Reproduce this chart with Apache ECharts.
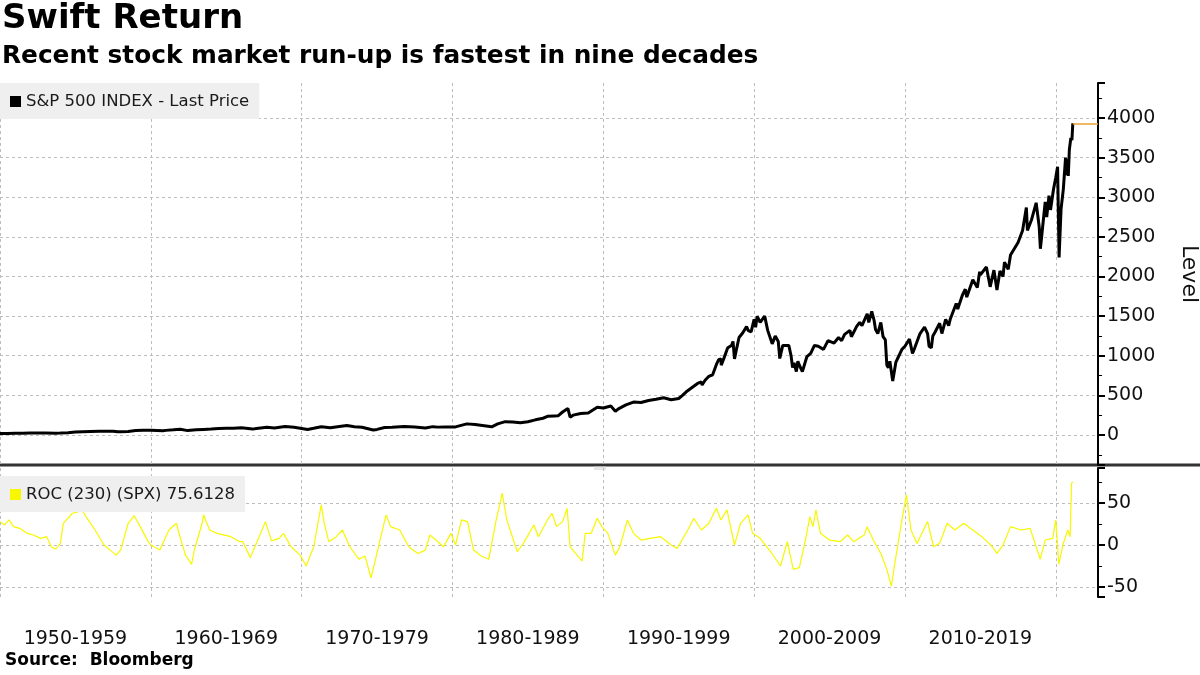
<!DOCTYPE html>
<html>
<head>
<meta charset="utf-8">
<script src="https://cdn.jsdelivr.net/npm/echarts@6/dist/echarts.min.js"></script>
<style>html,body{margin:0;padding:0;background:#fff}#c{width:1200px;height:675px}</style>
</head>
<body>
<div id="c"></div>
<script>
// ---- Data ----
const priceYears = [1950.0,1950.5,1951.0,1951.5,1952.0,1952.5,1953.0,1953.7,1954.0,1954.5,1955.0,1955.5,1956.0,1956.6,1957.0,1957.5,1957.8,1958.0,1958.5,1959.0,1959.5,1960.0,1960.8,1961.0,1961.5,1961.95,1962.45,1963.0,1963.5,1964.0,1964.5,1965.0,1965.5,1966.0,1966.75,1967.0,1967.7,1968.2,1968.9,1969.5,1970.4,1970.8,1971.3,1971.9,1972.5,1973.0,1973.5,1974.0,1974.75,1975.0,1975.5,1976.0,1976.8,1977.5,1978.2,1978.7,1979.0,1979.5,1980.2,1980.95,1981.5,1982.6,1983.0,1983.5,1984.0,1984.5,1985.0,1985.5,1986.0,1986.3,1986.75,1987.0,1987.3,1987.65,1987.8,1988.0,1988.5,1989.0,1989.6,1990.0,1990.5,1990.8,1991.0,1991.5,1992.0,1992.5,1993.0,1993.5,1994.0,1994.5,
  1995.0,1995.25,1995.5,1995.75,1996.0,1996.25,1996.5,1996.55,1996.75,1997.0,1997.25,1997.3,1997.5,1997.65,1997.8,1997.82,1998.0,1998.25,1998.5,1998.6,1998.7,1998.85,1999.0,1999.25,1999.5,1999.6,1999.8,2000.0,2000.1,2000.2,2000.4,2000.7,2000.9,2001.0,2001.2,2001.4,2001.6,2001.7,2001.9,2002.0,2002.3,2002.45,2002.55,2002.65,2002.8,2002.9,2003.0,2003.2,2003.5,2003.75,2004.0,2004.25,2004.6,2004.9,2005.3,2005.6,2005.8,2006.0,2006.35,2006.45,2006.8,2007.0,2007.15,2007.5,2007.6,2007.8,2007.95,2008.05,2008.2,2008.4,2008.55,2008.7,2008.8,2008.9,2009.0,2009.19,2009.4,2009.6,2009.8,2010.0,2010.3,2010.5,2010.65,2011.0,2011.3,2011.5,2011.6,2011.75,2011.85,2012.0,2012.3,2012.45,2012.7,2012.9,2013.0,2013.4,2013.5,2013.8,2014.0,2014.1,2014.5,2014.8,2014.95,2015.0,2015.4,2015.65,2015.9,2016.1,2016.3,2016.5,2016.6,2016.85,2017.0,2017.5,2017.8,2018.05,2018.12,2018.4,2018.7,2018.9,2018.98,2019.3,2019.4,2019.55,2019.65,2019.85,2020.0,2020.12,2020.22,2020.35,2020.5,2020.65,2020.72,2020.8,2020.83,2020.9,2021.0,2021.07,2021.13];
const priceValues = [17,18,21,22,24,25,26,23,25,29,36,41,45,48,46,48,40,41,45,55,58,59,53,58,65,72,55,65,70,75,83,85,84,92,74,82,96,89,108,98,70,84,104,92,107,119,105,97,63,70,95,96,107,100,87,105,99,102,102,140,131,103,140,168,164,153,167,191,211,235,240,242,290,335,225,250,272,278,350,340,365,300,330,380,415,410,435,450,470,445,
  460,500,545,580,615,650,670,630,690,740,760,740,890,950,960,880,970,1100,1130,1180,960,1100,1230,1290,1370,1320,1300,1460,1360,1500,1420,1500,1320,1320,1150,1250,1180,965,1130,1150,1130,1000,850,910,800,930,880,800,990,1030,1130,1120,1080,1190,1160,1230,1190,1270,1320,1240,1370,1420,1380,1530,1420,1560,1450,1330,1280,1420,1240,1200,880,850,930,680,920,1000,1080,1120,1210,1030,1100,1280,1360,1280,1120,1100,1250,1300,1410,1280,1460,1380,1460,1660,1590,1760,1840,1740,1960,1860,2060,2020,2120,1870,2080,1830,2070,2000,2180,2090,2270,2430,2580,2870,2580,2720,2930,2630,2350,2940,2750,3020,2840,3100,3250,3385,2240,2850,3100,3500,3280,3480,3270,3600,3750,3720,3934];

const rocYears = [1950.0,1950.3,1950.6,1950.9,1951.3,1951.8,1952.2,1952.7,1953.1,1953.4,1953.7,1954.0,1954.2,1954.8,1955.2,1955.4,1955.7,1956.3,1956.9,1957.3,1957.7,1958.0,1958.5,1958.9,1959.3,1959.8,1960.0,1960.6,1961.2,1961.7,1961.9,1962.3,1962.7,1962.9,1963.4,1963.5,1963.9,1964.4,1965.3,1965.9,1966.1,1966.6,1966.9,1967.6,1968.0,1968.5,1968.8,1969.3,1969.9,1970.3,1970.8,1971.3,1971.5,1971.8,1972.3,1972.7,1973.2,1973.8,1974.2,1974.6,1974.9,1975.3,1975.6,1975.9,1976.5,1977.1,1977.7,1978.2,1978.5,1978.9,1979.4,1979.9,1980.2,1980.6,1981.0,1981.4,1981.9,1982.4,1982.9,1983.3,1983.6,1984.3,1984.7,1985.4,1985.7,1986.3,1986.6,1986.9,1987.3,1987.6,1987.8,1988.3,1988.6,1988.8,1989.2,1989.6,1989.9,1990.3,1990.8,1991.1,1991.6,1992.0,1992.5,1993.1,1993.8,1994.5,1994.9,1995.6,1996.0,1996.5,1997.0,1997.5,1997.8,1998.2,1998.7,1999.1,1999.6,1999.9,2000.4,2001.1,2001.75,2002.2,2002.6,2003.0,2003.4,2003.7,2003.9,2004.1,2004.4,2005.0,2005.7,2006.2,2006.6,2007.3,2007.5,2007.9,2008.4,2008.8,2009.1,2009.3,2009.8,2010.1,2010.4,2010.8,2011.5,2011.9,2012.3,2012.8,2013.3,2013.9,2014.5,2015.1,2015.8,2016.1,2016.5,2017.0,2017.7,2018.3,2018.97,2019.3,2019.8,2020.0,2020.2,2020.5,2020.8,2020.95,2021.05,2021.13];
const rocValues = [28,24,30,22,20,14,12,8,10,-2,-5,2,26,38,40,43,34,18,0,-6,-12,-6,26,35,22,5,0,-6,18,26,12,-12,-23,-5,26,36,18,14,10,4,4,-15,-2,28,5,8,14,-2,-12,-25,-2,48,26,4,10,18,-2,-17,-13,-39,-17,14,36,22,18,-2,-10,-6,12,6,-2,14,0,30,28,-6,-13,-17,30,62,30,-8,2,24,10,30,38,22,28,44,-2,-13,-19,14,14,32,22,14,-12,-2,30,14,6,8,10,0,-4,18,32,18,26,44,30,42,0,26,36,14,8,-8,-25,4,-29,-27,6,34,22,42,14,6,4,12,4,12,22,6,-10,-29,-49,-25,30,60,18,2,28,-2,2,26,18,26,18,10,-2,-10,0,22,18,20,-17,6,8,30,-23,2,18,10,74,75.6128];

const decadeLabelCenters = [1955,1965,1975,1985,1995,2005,2015];
const priceName = 'S&P 500 INDEX - Last Price';
const rocName = 'ROC (230) (SPX) 75.6128';
const lastPrice = priceValues[priceValues.length - 1];
const lastYear = priceYears[priceYears.length - 1];
const xMin = 1950, xMax = 2022.8;

const font = '"DejaVu Sans", sans-serif';
const priceData = priceYears.map((y, i) => [y, priceValues[i]]);
const rocData = rocYears.map((y, i) => [y, rocValues[i]]);

const chart = echarts.init(document.getElementById('c'), null, {renderer: 'canvas'});
const splitDash = {show: true, showMinLine: false, showMaxLine: false, lineStyle: {color: '#bdbdbd', type: [3, 3], width: 1}};
const splitDashX = {show: true, lineStyle: {color: '#bdbdbd', type: [3, 3], width: 1}};
const yLabel = {margin: 9, fontSize: 19, color: '#111', fontFamily: font, showMinLabel: false, showMaxLabel: false, formatter: v => String(v)};

chart.setOption({
  animation: false,
  backgroundColor: '#fff',
  textStyle: {fontFamily: font},
  grid: [
    {left: 0, right: 102, top: 83, height: 382, containLabel: false, outerBoundsMode: 'none'},
    {left: 0, right: 102, top: 468, height: 129, containLabel: false, outerBoundsMode: 'none'}
  ],
  legend: [
    {data: [priceName], left: 0, top: 83, icon: 'rect', itemWidth: 11, itemHeight: 11, itemGap: 4,
     backgroundColor: '#efefef', padding: [10, 10, 9, 10], textStyle: {fontSize: 16.5, color: '#1a1a1a', fontFamily: font}},
    {data: [rocName], left: 0, top: 476, icon: 'rect', itemWidth: 11, itemHeight: 11, itemGap: 4,
     backgroundColor: '#efefef', padding: [10, 10, 9, 10], textStyle: {fontSize: 16.5, color: '#1a1a1a', fontFamily: font}}
  ],
  xAxis: [
    {type: 'value', gridIndex: 0, min: xMin, max: xMax, interval: 10,
     axisLine: {show: false}, axisTick: {show: false}, axisLabel: {show: false}, splitLine: splitDashX},
    {type: 'value', gridIndex: 1, min: xMin, max: xMax, interval: 10,
     axisLine: {show: false}, axisTick: {show: false}, splitLine: splitDashX,
     axisLabel: {customValues: decadeLabelCenters, margin: 33, fontSize: 19, color: '#111', fontFamily: font,
       formatter: v => (v - 5) + '-' + (v + 4)}}
  ],
  yAxis: [
    {type: 'value', gridIndex: 0, position: 'right', min: -379, max: 4442, splitNumber: 10,
     name: 'Level', nameLocation: 'middle', nameGap: 80, nameRotate: -90,
     nameTextStyle: {fontSize: 22, color: '#111', fontFamily: font},
     axisLine: {show: true, lineStyle: {color: '#000', width: 2}},
     axisTick: {show: true, length: 7, lineStyle: {color: '#000', width: 2}},
     minorTick: {show: true, splitNumber: 2, length: 4, lineStyle: {color: '#000', width: 1}},
     axisLabel: yLabel, splitLine: splitDash},
    {type: 'value', gridIndex: 1, position: 'right', min: -62, max: 92, splitNumber: 3,
     axisLine: {show: true, lineStyle: {color: '#000', width: 2}},
     axisTick: {show: true, length: 7, lineStyle: {color: '#000', width: 2}},
     minorTick: {show: true, splitNumber: 2, length: 4, lineStyle: {color: '#000', width: 1}},
     axisLabel: yLabel, splitLine: splitDash}
  ],
  series: [
    {name: priceName, type: 'line', xAxisIndex: 0, yAxisIndex: 0, data: priceData, showSymbol: false,
     lineStyle: {color: '#000', width: 3}, itemStyle: {color: '#000'},
     markLine: {silent: true, symbol: 'none', label: {show: false},
       emphasis: {disabled: true},
       lineStyle: {color: '#e8a030', width: 1.5, type: 'solid', opacity: 1},
       data: [[{coord: [lastYear, lastPrice]}, {coord: [xMax, lastPrice]}]]}},
    {name: rocName, type: 'line', xAxisIndex: 1, yAxisIndex: 1, data: rocData, showSymbol: false,
     lineStyle: {color: '#f7f700', width: 1.2}, itemStyle: {color: '#f7f700'}}
  ],
  graphic: [
    {type: 'text', left: 2, top: 2, style: {text: 'Swift Return', font: 'bold 34px ' + font, fill: '#000'}},
    {type: 'text', left: 2, top: 44, style: {text: 'Recent stock market run-up is fastest in nine decades', font: 'bold 24.8px ' + font, fill: '#000'}},
    {type: 'text', left: 5, top: 652, style: {text: 'Source:  Bloomberg', font: 'bold 17px ' + font, fill: '#000'}},
    {type: 'rect', shape: {x: 0, y: 463.5, width: 1200, height: 3}, style: {fill: '#333'}},
    {type: 'rect', shape: {x: 594, y: 466.5, width: 12, height: 1}, style: {fill: '#ccc'}},
    {type: 'rect', shape: {x: 594, y: 468.5, width: 12, height: 1}, style: {fill: '#ccc'}}
  ]
});
</script>
</body>
</html>
